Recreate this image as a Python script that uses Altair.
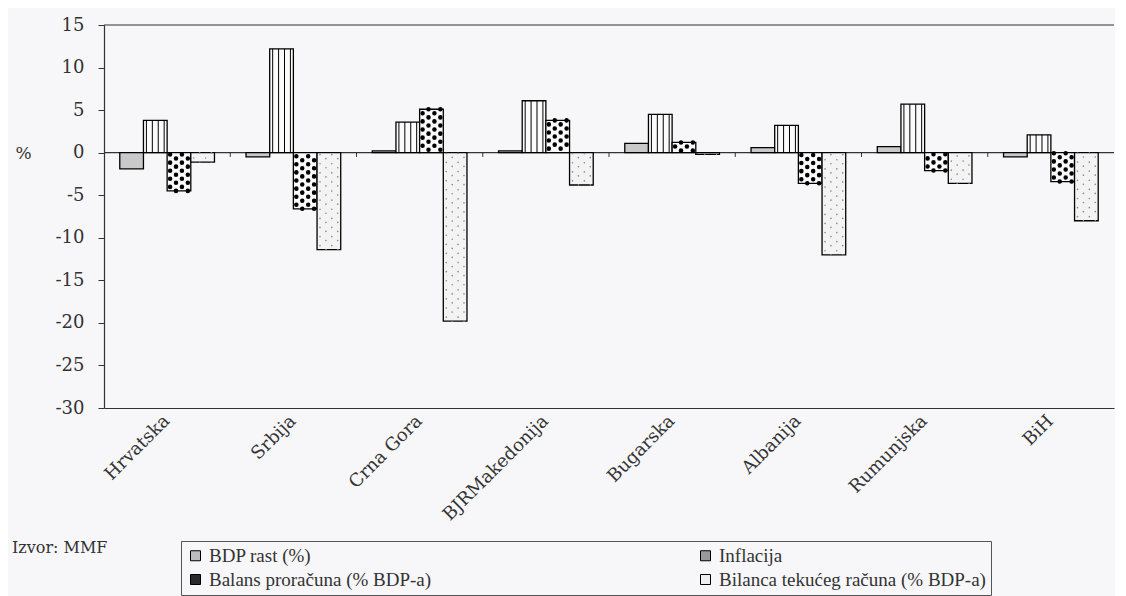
import altair as alt
import pandas as pd

countries = ["Hrvatska", "Srbija", "Crna Gora", "BJRMakedonija", "Bugarska", "Albanija", "Rumunjska", "BiH"]
series = ["BDP rast (%)", "Inflacija", "Balans proračuna (% BDP-a)", "Bilanca tekućeg računa (% BDP-a)"]
bdp_rast = [-1.9, -0.5, 0.2, 0.2, 1.1, 0.6, 0.7, -0.5]
inflacija = [3.8, 12.2, 3.6, 6.1, 4.5, 3.2, 5.7, 2.1]
balans = [-4.5, -6.6, 5.1, 3.8, 1.2, -3.6, -2.1, -3.4]
bilanca = [-1.1, -11.4, -19.8, -3.8, -0.2, -12.0, -3.6, -8.0]
y_ticks = [15, 10, 5, 0, -5, -10, -15, -20, -25, -30]

FONT = "DejaVu Serif"
LFONT = "Liberation Serif"
TXT = "#333333"
BG = "#f7f7f9"

values = [bdp_rast, inflacija, balans, bilanca]
rows = []
for si, s in enumerate(series):
    for c, v in zip(countries, values[si]):
        rows.append({"country": c, "series": s, "value": v})
df = pd.DataFrame(rows)

# legend is filled column by column: order so rows read BDP | Inflacija, Balans | Bilanca
legend_order = [series[0], series[2], series[1], series[3]]
legend_colors = ["#bdbdbd", "#2a2a2a", "#9a9a9a", "#eeeeee"]

# sub-positions inside each bar for the hatch patterns
N_SUB = 4
sub_keys = ["pL0", "pL1"] + [f"{i}-{k}" for i in range(len(series)) for k in range(N_SUB)] + ["pR0", "pR1"]

def sub_df(si, ks):
    r = []
    for c, v in zip(countries, values[si]):
        for k in ks:
            r.append({"country": c, "key": f"{si}-{k}", "value": v})
    return pd.DataFrame(r)

x_scale = alt.Scale(domain=countries, paddingInner=0, paddingOuter=0)
y_scale = alt.Scale(domain=[-30, 15], nice=False)

def X(**kw):
    return alt.X("country:N", scale=x_scale, title=None, **kw)

def Y():
    return alt.Y("value:Q", scale=y_scale, title="%")

sub_off = alt.XOffset("key:N", scale=alt.Scale(domain=sub_keys, paddingInner=0, paddingOuter=0.6667))

top_border = alt.Chart(pd.DataFrame({"a": [0]})).mark_rule(color=TXT, strokeWidth=1.2).encode(y=alt.datum(15))
zero_line = alt.Chart(pd.DataFrame({"a": [0]})).mark_rule(color=TXT, strokeWidth=1.2).encode(y=alt.datum(0))

legend_layer = alt.Chart(df).mark_square(stroke="black", strokeWidth=1, opacity=0).encode(
    x=X(), y=Y(),
    color=alt.Color("series:N",
                    scale=alt.Scale(domain=legend_order, range=legend_colors),
                    legend=alt.Legend(orient="none", legendX=77, legendY=516, columns=2,
                                      columnPadding=264, rowPadding=4, padding=5,
                                      strokeColor="#555555", title=None, symbolType="square",
                                      symbolSize=100, symbolStrokeColor="black", symbolStrokeWidth=1,
                                      symbolOpacity=1,
                                      labelFont=LFONT, labelFontSize=19, labelColor=TXT, labelLimit=500)),
)

bars = alt.Chart(df).mark_bar(stroke="black", strokeWidth=1.3).encode(
    x=alt.X("country:N", scale=x_scale, title=None,
            axis=alt.Axis(labelAngle=-45, labelAlign="right", labelBaseline="middle",
                          labelFont=FONT, labelFontSize=18, labelColor=TXT, ticks=False,
                          domainColor=TXT, domainWidth=1.2, labelPadding=10, grid=False)),
    xOffset=alt.XOffset("series:N", scale=alt.Scale(domain=series, paddingInner=0, paddingOuter=0.6667)),
    y=alt.Y("value:Q", scale=y_scale, title="%",
            axis=alt.Axis(values=y_ticks, tickSize=6, labelPadding=14, labelFont=FONT,
                          labelFontSize=18, labelColor=TXT, domainColor=TXT, domainWidth=1.2,
                          labelExpr="'' + datum.value",
                          tickColor=TXT, grid=False, titleAngle=0, titleX=-89, titleY=128,
                          titleAlign="left", titleBaseline="middle", titleFont=FONT,
                          titleFontSize=17, titleFontWeight="normal", titleColor=TXT)),
    fill=alt.Fill("series:N", scale=alt.Scale(domain=series, range=["#c9c9c9", "#fbfbfb", "#fbfbfb", "#f3f3f3"]),
                  legend=None),
)

infl_stripes = alt.Chart(sub_df(1, range(N_SUB))).mark_rule(color="black", strokeWidth=1).encode(
    x=X(), xOffset=sub_off, y=Y(), y2=alt.datum(0))

bal_a = alt.Chart(sub_df(2, [0, 2])).mark_rule(
    color="black", strokeWidth=4.5, strokeDash=[0.1, 8], strokeCap="round", strokeDashOffset=-4).encode(
    x=X(), xOffset=sub_off, y=Y(), y2=alt.datum(0))
bal_b = alt.Chart(sub_df(2, [1, 3])).mark_rule(
    color="black", strokeWidth=4.5, strokeDash=[0.1, 8], strokeCap="round", strokeDashOffset=0).encode(
    x=X(), xOffset=sub_off, y=Y(), y2=alt.datum(0))

bil_a = alt.Chart(sub_df(3, [0, 2])).mark_rule(
    color="#8a8a8a", strokeWidth=1.6, strokeDash=[0.1, 9], strokeCap="round", strokeDashOffset=-4).encode(
    x=X(), xOffset=sub_off, y=Y(), y2=alt.datum(0))
bil_b = alt.Chart(sub_df(3, [1, 3])).mark_rule(
    color="#8a8a8a", strokeWidth=1.6, strokeDash=[0.1, 9], strokeCap="round", strokeDashOffset=0).encode(
    x=X(), xOffset=sub_off, y=Y(), y2=alt.datum(0))

cat_ticks = alt.Chart(pd.DataFrame({"country": countries[1:]})).mark_rule(color=TXT, strokeWidth=1).encode(
    x=X(bandPosition=0), y=alt.datum(0), y2=alt.datum(-0.5))

source = alt.Chart(pd.DataFrame({"t": ["Izvor: MMF"]})).mark_text(
    align="left", baseline="alphabetic", font=FONT, fontSize=16, color=TXT).encode(
    x=alt.value(-92), y=alt.value(528), text="t:N")

chart = alt.layer(
    legend_layer, top_border, zero_line, bars, infl_stripes, bal_a, bal_b, bil_a, bil_b, cat_ticks, source
).resolve_scale(xOffset="independent").properties(
    width=1010, height=383, background=BG,
    padding={"left": 4, "top": 8, "right": 0, "bottom": 0},
).configure(font=FONT).configure_view(stroke=None).configure_legend(
    labelFont=LFONT, labelFontSize=19, labelColor=TXT)

chart.save("out.html", embed_options={"renderer": "svg", "actions": False})
